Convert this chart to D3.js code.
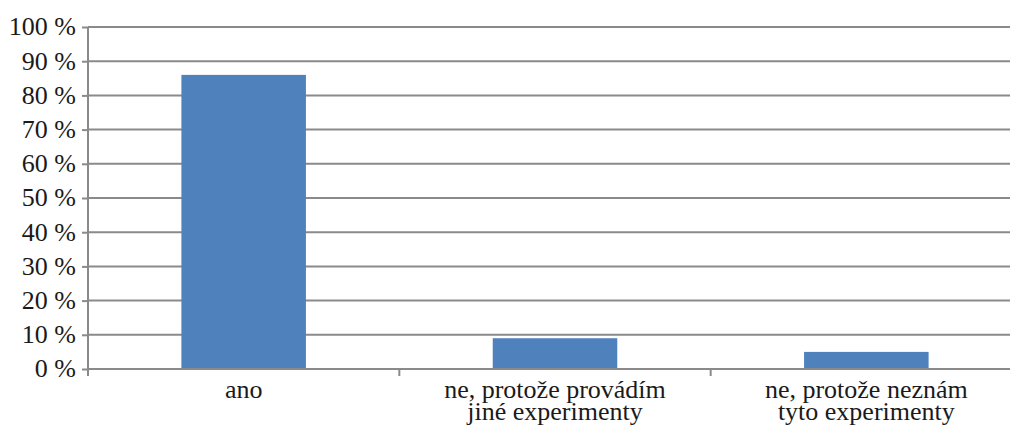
<!DOCTYPE html>
<html>
<head>
<meta charset="utf-8">
<script src="https://cdn.jsdelivr.net/npm/d3@7"></script>
</head>
<body style="margin:0; background:#fff">
<svg id="chart" width="1010" height="432" style="display:block"></svg>
<script>
// Survey answers and their shares (percent)
const categories = [
  ["ano"],
  ["ne, protože provádím", "jiné experimenty"],
  ["ne, protože neznám", "tyto experimenty"]
];
const values = [86, 9, 5];
const yTicks = [0, 10, 20, 30, 40, 50, 60, 70, 80, 90, 100];

const labelFamily = "Liberation Serif";
const labelSize = 26;
const textColor = "#1a1a1a";
const svg = d3.select("#chart");
const plotLeft = 88, plotRight = 1022, plotTop = 27, plotBottom = 369;

const keys = categories.map(c => c.join(" "));
const x = d3.scaleBand().domain(keys).range([plotLeft, plotRight])
  .paddingInner(0.6).paddingOuter(0.3);
const y = d3.scaleLinear().domain([0, 100]).range([plotBottom, plotTop]);

const gridColor = "#8a8a8a";

// horizontal gridlines
svg.append("g").selectAll("line").data(yTicks).join("line")
  .attr("x1", plotLeft).attr("x2", plotRight)
  .attr("y1", d => y(d)).attr("y2", d => y(d))
  .attr("stroke", gridColor).attr("stroke-width", 2);

// bars
svg.append("g").selectAll("rect").data(values).join("rect")
  .attr("x", (d, i) => x(keys[i]))
  .attr("width", x.bandwidth())
  .attr("y", d => y(d))
  .attr("height", d => y(0) - y(d))
  .attr("fill", "#4f81bd");

// redraw baseline over bars
svg.append("line")
  .attr("x1", plotLeft).attr("x2", plotRight)
  .attr("y1", y(0)).attr("y2", y(0))
  .attr("stroke", gridColor).attr("stroke-width", 2);

// value axis (ticks drawn by d3, labels restyled below)
const yAxis = d3.axisLeft(y).tickValues(yTicks).tickSize(6).tickPadding(6)
  .tickFormat(d => d + " %");
const gy = svg.append("g").attr("transform", `translate(${plotLeft},0)`).call(yAxis);
gy.select(".domain").attr("stroke", gridColor).attr("stroke-width", 2)
  .attr("d", `M0,${plotTop}V${plotBottom + 7}`);
gy.selectAll(".tick line").attr("stroke", gridColor).attr("stroke-width", 2);
gy.selectAll(".tick text").remove();

// value labels as plain text elements
svg.append("g").selectAll("text").data(yTicks).join("text")
  .style("font-family", () => `"${labelFamily}"`)
  .attr("font-size", labelSize)
  .attr("fill", textColor)
  .attr("text-anchor", "end")
  .attr("x", plotLeft - 12)
  .attr("y", d => y(d))
  .attr("dy", "0.32em")
  .text(d => d + " %");

// category boundary ticks
const step = x.step();
const bounds = d3.range(keys.length + 1).map(i => plotLeft + i * step);
svg.append("g").selectAll("line").data(bounds).join("line")
  .attr("x1", d => d).attr("x2", d => d)
  .attr("y1", plotBottom).attr("y2", plotBottom + 7)
  .attr("stroke", gridColor).attr("stroke-width", 2);

// category labels, one text element per line
const rows = categories.flatMap((lines, i) =>
  lines.map((t, j) => ({ key: keys[i], line: j, text: t })));
svg.append("g").selectAll("text").data(rows).join("text")
  .style("font-family", () => `"${labelFamily}"`)
  .attr("font-size", labelSize)
  .attr("fill", textColor)
  .attr("text-anchor", "middle")
  .attr("x", d => x(d.key) + x.bandwidth() / 2)
  .attr("y", d => 398 + d.line * 21.5)
  .text(d => d.text);
</script>
</body>
</html>
